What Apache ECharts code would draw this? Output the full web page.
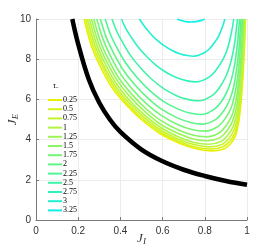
<!DOCTYPE html>
<html><head><meta charset="utf-8">
<script src="https://cdn.jsdelivr.net/npm/echarts@6/dist/echarts.min.js"></script>
<style>html,body{margin:0;padding:0;background:#fff}#c{width:273px;height:249px}</style>
</head><body><div id="c"></div>
<script>
const tauLabels = ['0.25','0.5','0.75','1','1.25','1.5','1.75','2','2.25','2.5','2.75','3','3.25'];
const xTicks = [0, 0.2, 0.4, 0.6, 0.8, 1];
const yTicks = [0, 2, 4, 6, 8, 10];

const boundary = [[0.172,10],[0.2,8.75],[0.25,7.0],[0.3,5.83],[0.35,5.0],[0.4,4.38],[0.5,3.5],[0.6,2.92],[0.7,2.5],[0.8,2.19],[0.9,1.94],[1.0,1.75]];

const tau0_25 = [[0.228,10],[0.264,8.62],[0.306,7.61],[0.360,6.59],[0.427,5.74],[0.505,4.95],[0.589,4.29],[0.680,3.82],[0.758,3.54],[0.830,3.44],[0.887,3.52],[0.920,3.77],[0.944,4.16],[0.960,4.82],[0.973,6.00],[0.983,7.51],[0.990,9.08],[0.993,10]];
const tau0_5 = [[0.236,10],[0.271,8.66],[0.313,7.67],[0.366,6.66],[0.431,5.81],[0.507,5.03],[0.590,4.38],[0.679,3.91],[0.755,3.63],[0.826,3.53],[0.884,3.63],[0.917,3.90],[0.942,4.31],[0.958,4.97],[0.971,6.12],[0.981,7.59],[0.988,9.11],[0.991,10]];
const tau0_75 = [[0.244,10],[0.279,8.70],[0.319,7.73],[0.371,6.74],[0.435,5.90],[0.510,5.13],[0.591,4.48],[0.678,4.01],[0.753,3.74],[0.822,3.64],[0.881,3.76],[0.914,4.05],[0.939,4.49],[0.956,5.14],[0.969,6.27],[0.979,7.68],[0.986,9.15],[0.989,10]];
const tau1 = [[0.253,10],[0.287,8.75],[0.326,7.81],[0.377,6.84],[0.439,6.01],[0.512,5.24],[0.591,4.60],[0.676,4.13],[0.749,3.86],[0.817,3.77],[0.877,3.91],[0.911,4.24],[0.936,4.69],[0.953,5.35],[0.967,6.44],[0.977,7.79],[0.984,9.19],[0.987,10]];
const tau1_25 = [[0.263,10],[0.296,8.81],[0.334,7.90],[0.384,6.96],[0.444,6.15],[0.516,5.39],[0.592,4.75],[0.675,4.30],[0.746,4.03],[0.812,3.94],[0.872,4.10],[0.907,4.46],[0.932,4.93],[0.950,5.58],[0.963,6.63],[0.974,7.92],[0.981,9.24],[0.984,10]];
const tau1_5 = [[0.274,10],[0.306,8.87],[0.343,8.00],[0.391,7.09],[0.450,6.30],[0.519,5.56],[0.593,4.94],[0.673,4.49],[0.742,4.23],[0.806,4.14],[0.867,4.33],[0.902,4.71],[0.929,5.21],[0.946,5.85],[0.960,6.85],[0.971,8.07],[0.978,9.29],[0.981,10]];
const tau1_75 = [[0.288,10],[0.319,8.96],[0.354,8.14],[0.400,7.28],[0.457,6.51],[0.523,5.79],[0.595,5.19],[0.671,4.75],[0.738,4.50],[0.799,4.42],[0.861,4.64],[0.897,5.05],[0.924,5.56],[0.941,6.19],[0.956,7.13],[0.966,8.25],[0.973,9.36],[0.977,10]];
const tau2 = [[0.305,10],[0.334,9.06],[0.368,8.30],[0.412,7.49],[0.465,6.77],[0.529,6.08],[0.597,5.50],[0.670,5.08],[0.733,4.85],[0.791,4.77],[0.854,5.02],[0.891,5.45],[0.918,5.98],[0.936,6.59],[0.950,7.45],[0.961,8.46],[0.968,9.44],[0.972,10]];
const tau2_25 = [[0.328,10],[0.355,9.18],[0.387,8.50],[0.428,7.77],[0.478,7.10],[0.537,6.46],[0.600,5.93],[0.669,5.54],[0.728,5.32],[0.782,5.25],[0.846,5.52],[0.883,5.96],[0.910,6.50],[0.928,7.07],[0.943,7.83],[0.954,8.70],[0.961,9.53],[0.965,10]];
const tau2_5 = [[0.360,10],[0.385,9.34],[0.414,8.77],[0.451,8.14],[0.496,7.56],[0.550,6.99],[0.607,6.52],[0.669,6.17],[0.723,5.99],[0.772,5.93],[0.836,6.20],[0.873,6.64],[0.900,7.15],[0.918,7.66],[0.933,8.30],[0.944,8.99],[0.951,9.63],[0.955,10]];
const tau2_75 = [[0.405,10],[0.426,9.52],[0.451,9.10],[0.483,8.62],[0.522,8.16],[0.568,7.71],[0.618,7.34],[0.671,7.06],[0.717,6.92],[0.760,6.87],[0.822,7.12],[0.857,7.51],[0.884,7.95],[0.902,8.36],[0.916,8.84],[0.926,9.32],[0.934,9.76],[0.937,10]];
const tau3 = [[0.490,10],[0.506,9.75],[0.524,9.50],[0.547,9.22],[0.575,8.94],[0.609,8.66],[0.645,8.43],[0.684,8.26],[0.717,8.18],[0.748,8.15],[0.800,8.33],[0.829,8.60],[0.851,8.90],[0.866,9.16],[0.877,9.43],[0.886,9.68],[0.892,9.89],[0.895,10]];
const tau3_25 = [[0.668,10],[0.690,9.92],[0.708,9.87],[0.735,9.85],[0.758,9.87],[0.781,9.92],[0.800,10]];

const curves = [tau0_25,tau0_5,tau0_75,tau1,tau1_25,tau1_5,tau1_75,tau2,tau2_25,tau2_5,tau2_75,tau3,tau3_25];
const palette = ['#e8f000','#d6f31a','#c4f430','#b0f545','#9cf555','#88f565','#75f575','#62f585','#50f595','#40f3a8','#32f2bc','#22f0d0','#10eee6'];

const series = curves.map((d,i)=>({
  name: tauLabels[i], type:'line', data:d, showSymbol:false, smooth:0.35,
  lineStyle:{width:1.6,color:palette[i]}, itemStyle:{color:palette[i]}, z:3
}));
series.push({name:'boundary', type:'line', data:boundary, showSymbol:false, smooth:0.4,
  lineStyle:{width:4.5,color:'#000'}, itemStyle:{color:'#000'}, z:4});

const nameRich = {a:{fontFamily:'Liberation Serif',fontStyle:'italic',fontSize:13,color:'#333'},
  b:{fontFamily:'Liberation Serif',fontStyle:'italic',fontSize:9,color:'#333',padding:[5,0,0,0]}};

const chart = echarts.init(document.getElementById('c'), null, {renderer:'canvas'});
chart.setOption({
  animation:false,
  grid:{left:36,right:26,top:19,bottom:29,containLabel:false,outerBoundsMode:'none'},
  xAxis:{type:'value',min:xTicks[0],max:xTicks[xTicks.length-1],interval:0.2,
    axisLine:{show:true,lineStyle:{color:'#7a7a7a'}},
    axisTick:{show:true,inside:true,length:3,lineStyle:{color:'#7a7a7a'}},
    splitLine:{show:true,lineStyle:{color:'#ececec'}},
    axisLabel:{color:'#333',fontSize:10,fontFamily:'Liberation Sans',margin:6,
      formatter:v=>String(Math.round(v*10)/10)},
    name:'{a|J}{b|I}', nameLocation:'middle', nameGap:12, nameMoveOverlap:false,
    nameTextStyle:{rich:nameRich, verticalAlign:'top'}
  },
  yAxis:{type:'value',min:yTicks[0],max:yTicks[yTicks.length-1],interval:2,
    axisLine:{show:true,lineStyle:{color:'#7a7a7a'}},
    axisTick:{show:true,inside:true,length:3,lineStyle:{color:'#7a7a7a'}},
    splitLine:{show:true,lineStyle:{color:'#ececec'}},
    axisLabel:{color:'#333',fontSize:10,fontFamily:'Liberation Sans',margin:5},
    name:'{a|J}{b|E}', nameLocation:'middle', nameGap:16, nameRotate:90, nameMoveOverlap:false,
    nameTextStyle:{rich:nameRich}
  },
  legend:{data:tauLabels, orient:'vertical', left:43, top:91, icon:'rect', itemWidth:14, itemHeight:2,
    itemGap:1.2, textStyle:{fontSize:8,fontFamily:'Liberation Serif',color:'#000',lineHeight:8,padding:[0,0,0,-4]}},
  graphic:[{type:'text',left:53,top:82,style:{text:'{t|τ}{s|−}',rich:{t:{fontFamily:'Liberation Serif',fontStyle:'italic',fontSize:8,fill:'#000'},s:{fontSize:5,fill:'#000',padding:[3,0,0,0]}}}}],
  series:series
});
</script></body></html>
